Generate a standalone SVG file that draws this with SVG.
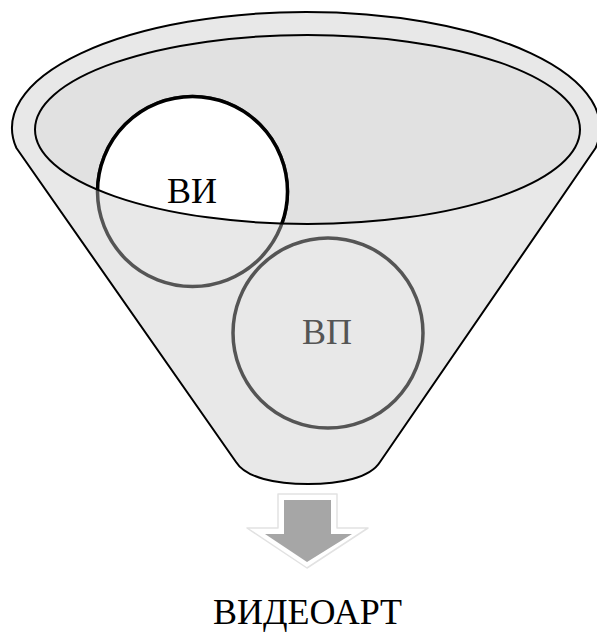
<svg xmlns="http://www.w3.org/2000/svg" width="597" height="632" viewBox="0 0 597 632">
<style>
.lbl{font-family:"Liberation Serif","Times New Roman",serif;font-size:36px;text-anchor:middle}
.ring{stroke-width:3.5}
</style>
<defs>
<clipPath id="cup"><ellipse cx="307.5" cy="129.5" rx="272.5" ry="94.5"/></clipPath>
</defs>
<rect width="597" height="632" fill="#fff"/>
<g id="funnel">
<path d="M16.4,148 A294,116 0 1 1 595.6,148 L380,462 C370,478 340,484 308,484 C276,484 246,478 236,462 Z" fill="#e8e8e8" stroke="#000" stroke-width="2" stroke-linejoin="round"/>
<ellipse cx="307.5" cy="129.5" rx="272.5" ry="94.5" fill="#e1e1e1"/>
</g>
<g id="vp">
<circle class="ring" cx="328" cy="333" r="95" fill="none" stroke="#555"/>
<text class="lbl" x="327" y="344" fill="#555">ВП</text>
</g>
<g id="vi">
<circle class="ring" cx="192.5" cy="191.5" r="95" fill="none" stroke="#555"/>
<circle class="ring" cx="192.5" cy="191.5" r="95" fill="#fff" stroke="#000" clip-path="url(#cup)"/>
</g>
<ellipse id="rim" cx="307.5" cy="129.5" rx="272.5" ry="94.5" fill="none" stroke="#000" stroke-width="2"/>
<text class="lbl" x="192" y="203" fill="#000">ВИ</text>
<g id="connectors">
<polygon points="278,494 337,494 337,528 368,528 307,568 247,528 278,528" fill="#fff" stroke="#e2e2e2" stroke-width="1.5" stroke-linejoin="round"/>
<polygon points="284,500 331,500 331,534 352,534 307,562 265,534 284,534" fill="#a6a6a6"/>
</g>
<g id="result">
<text class="lbl" x="307.5" y="624" fill="#000">ВИДЕОАРТ</text>
</g>
</svg>
